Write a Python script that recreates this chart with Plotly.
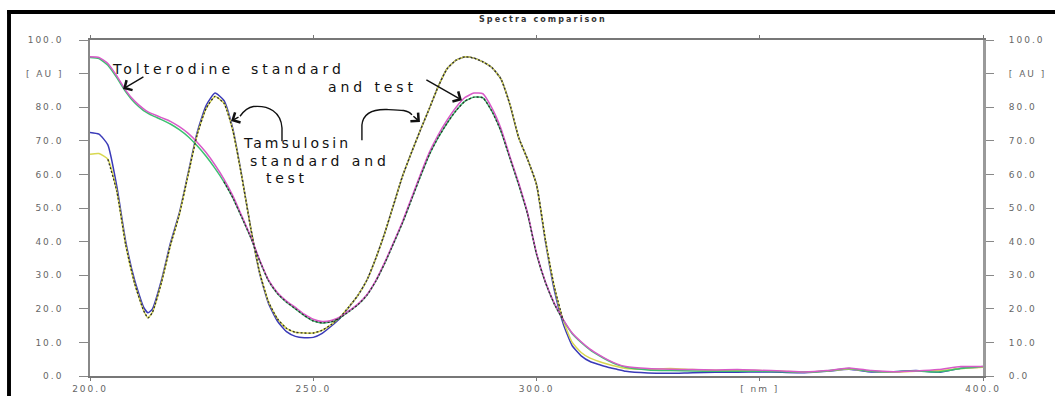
import plotly.graph_objects as go

# Wavelength grid (nm)
wavelength = [200, 202, 204, 206, 208, 210, 212, 213, 214, 216, 218, 220, 222, 224, 226, 228,
              230, 232, 234, 236, 238, 240, 242, 244, 246, 248, 250, 252, 254, 256, 258, 260,
              262, 264, 266, 268, 270, 272, 274, 276, 278, 280, 282, 284, 286, 288, 290, 292,
              294, 296, 298, 300, 302, 304, 306, 308, 310, 312, 314, 316, 318, 320,
              325, 330, 335, 340, 345, 350, 355, 360, 365, 370, 375, 380, 385, 390, 395, 400]

# Absorbance [AU]
tolterodine_std = [95.0, 94.8, 93.0, 89.3, 85.0, 81.8, 79.5, 78.6, 78.0, 76.9, 75.8, 74.2, 72.2, 69.6, 66.5, 62.8,
                   58.6, 53.6, 47.6, 41.5, 34.5, 28.5, 24.8, 22.3, 20.4, 18.4, 16.9, 16.2, 16.5, 17.6, 19.4, 21.4,
                   24.2, 28.4, 33.8, 39.8, 46.0, 53.0, 60.0, 66.6, 71.8, 76.2, 80.0, 82.9, 84.2, 84.0, 79.8, 73.8,
                   65.5, 57.5, 48.5, 36.5, 28.0, 21.6, 16.8, 12.8, 10.2, 8.0, 6.3, 4.8, 3.6, 2.8,
                   2.2, 2.0, 1.9, 1.8, 1.9, 1.7, 1.5, 1.2, 1.6, 2.4, 1.6, 1.3, 1.5, 1.9, 2.8, 2.8]
tolterodine_test = [94.8, 94.5, 92.5, 88.8, 84.6, 81.3, 79.0, 78.2, 77.5, 76.3, 75.0, 73.3, 71.2, 68.5, 65.4, 61.8,
                    57.8, 53.0, 47.2, 41.2, 34.3, 28.3, 24.5, 22.0, 20.0, 18.0, 16.4, 15.8, 16.1, 17.3, 19.2, 21.2,
                    24.0, 28.2, 33.5, 39.5, 45.6, 52.5, 59.4, 65.9, 71.0, 75.3, 79.0, 81.8, 83.0, 82.8, 78.8, 73.0,
                    65.0, 57.0, 48.2, 36.3, 27.8, 21.4, 16.6, 12.6, 10.0, 7.8, 6.1, 4.6, 3.4, 2.6,
                    1.8, 1.6, 1.5, 1.4, 1.4, 1.4, 1.3, 1.2, 1.5, 2.2, 1.4, 1.3, 1.5, 1.2, 2.2, 2.8]
tamsulosin_std = [72.5, 72.0, 68.8, 56.5, 40.0, 28.5, 20.5, 18.8, 20.0, 28.5, 39.5, 48.5, 60.5, 72.5, 80.5, 84.2,
                  82.0, 73.5, 59.5, 44.0, 30.5, 21.5, 16.3, 13.2, 11.8, 11.4, 11.5, 12.7, 14.8, 17.2, 20.5, 24.0,
                  28.5, 35.0, 42.5, 51.0, 59.5, 66.5, 73.2, 79.6, 86.2, 91.5, 94.0, 95.0, 94.6, 93.5, 91.8, 88.5,
                  81.0, 71.0, 64.5, 57.0, 40.0, 25.5, 15.5, 9.0, 6.0, 4.3, 3.4, 2.6, 2.0, 1.4,
                  0.9, 0.8, 1.0, 1.1, 1.1, 1.2, 1.1, 1.0, 1.4, 2.0, 1.2, 1.3, 1.6, 1.1, 2.3, 2.7]
tamsulosin_test = [66.0, 66.2, 64.5, 55.0, 39.0, 27.5, 19.5, 17.3, 19.0, 27.8, 38.8, 48.0, 60.0, 71.8, 79.6, 83.2,
                   81.2, 73.0, 59.3, 44.0, 30.8, 22.0, 17.0, 14.2, 13.0, 12.8, 12.8, 13.6, 15.3, 17.5, 20.6, 24.0,
                   28.5, 35.0, 42.5, 51.0, 59.5, 66.5, 73.2, 79.6, 86.2, 91.5, 94.0, 95.0, 94.6, 93.5, 91.8, 88.5,
                   81.0, 71.0, 64.5, 57.0, 40.5, 26.5, 16.5, 10.0, 7.0, 5.3, 4.3, 3.5, 2.8, 2.2,
                   2.0, 2.2, 1.9, 1.7, 1.6, 1.6, 1.4, 1.2, 1.5, 2.1, 1.4, 1.2, 1.4, 1.6, 2.2, 2.6]

# Axis ticks
x_ticks = [200, 250, 300, 350, 400]
x_tick_labels = ["200.0", "250.0", "300.0", "[ nm ]", "400.0"]
y_ticks = [0, 10, 20, 30, 40, 50, 60, 70, 80, 90, 100]
y_tick_labels = ["0.0", "10.0", "20.0", "30.0", "40.0", "50.0", "60.0", "70.0", "80.0", "[ AU ]", "100.0"]

# Wavelength windows where the overlapping traces show as a dark dotted line
tamsulosin_overlap = (204, 306)
tolterodine_overlap = (230, 306)


def spaced(text, px):
    return f'<span style="letter-spacing:{px}px">{text}</span>'


def window(xs, ys, lo, hi):
    pairs = [(x, y) for x, y in zip(xs, ys) if lo <= x <= hi]
    return [p[0] for p in pairs], [p[1] for p in pairs]


fig = go.Figure()

series = [
    ("Tamsulosin standard", tamsulosin_std, "#3a3ab8"),
    ("Tamsulosin test", tamsulosin_test, "#d8d850"),
    ("Tolterodine test", tolterodine_test, "#3cc070"),
    ("Tolterodine standard", tolterodine_std, "#d85ac8"),
]
for name, ys, color in series:
    fig.add_trace(go.Scatter(x=wavelength, y=ys, mode="lines", name=name,
                             line=dict(color=color, width=1.5, shape="spline", smoothing=0.5)))

for ys, (lo, hi) in [(tamsulosin_test, tamsulosin_overlap), (tolterodine_test, tolterodine_overlap)]:
    wx, wy = window(wavelength, ys, lo, hi)
    fig.add_trace(go.Scatter(x=wx, y=wy, mode="lines", yaxis="y2", showlegend=False,
                             line=dict(color="#2e2e2e", width=1.3, dash="2px,2px",
                                       shape="spline", smoothing=0.5)))

tick_font = dict(family="DejaVu Sans", size=9, color="#666666")

fig.update_layout(
    width=1055, height=396,
    margin=dict(l=90, r=72, t=40, b=20),
    paper_bgcolor="white", plot_bgcolor="white",
    showlegend=False,
    xaxis=dict(range=[200, 400], tickvals=x_ticks, automargin=False,
               ticktext=[spaced(t, 2) for t in x_tick_labels],
               showline=True, linecolor="#777777", linewidth=1.5, mirror="ticks",
               ticks="outside", ticklen=3, tickcolor="#777777", tickwidth=1,
               showgrid=False, zeroline=False, tickfont=tick_font, ticklabelstandoff=0),
    yaxis=dict(range=[0, 100], tickvals=y_ticks, automargin=False,
               ticktext=[spaced(t, 2) for t in y_tick_labels],
               showline=True, linecolor="#888888", linewidth=1.5,
               ticks="outside", ticklen=9, tickcolor="#888888", tickwidth=1,
               showgrid=False, zeroline=False, tickfont=tick_font, ticklabelstandoff=14),
    yaxis2=dict(range=[0, 100], overlaying="y", side="right", tickvals=y_ticks, automargin=False,
                ticktext=[spaced(t, 2) for t in y_tick_labels],
                showline=True, linecolor="#9a9a9a", linewidth=3,
                ticks="outside", ticklen=8, tickcolor="#888888", tickwidth=1,
                showgrid=False, zeroline=False, tickfont=tick_font, ticklabelstandoff=13),
)

# Chart title
fig.add_annotation(text=spaced("<b>Spectra comparison</b>", 2.1), xref="paper", yref="paper",
                   x=0.507, y=1.0625, xanchor="center", yanchor="middle", showarrow=False,
                   font=dict(family="DejaVu Sans", size=8, color="#333333"))

# Handwritten-style labels
label_font = dict(family="DejaVu Sans", size=14, color="#111111")
labels = [
    ("Tolterodine  standard", 204.6, 91.5, 4.0),
    ("and test", 253.0, 85.9, 3.9),
    ("Tamsulosin", 234.0, 69.2, 3.0),
    ("standard and", 235.6, 64.1, 3.9),
    ("test", 239.2, 59.0, 3.7),
]
for text, lx, ly, ls in labels:
    fig.add_annotation(text=spaced(text.replace("  ", "&nbsp; "), ls), x=lx, y=ly, xref="x", yref="y",
                       xanchor="left", yanchor="middle", showarrow=False, borderpad=0,
                       font=label_font)

# Pointer arrows: (tip x, tip y, tail x, tail y)
arrows = [
    (207.4, 85.4, 212.3, 89.3),
    (283.3, 82.1, 275.0, 88.4),
    (231.6, 75.9, 233.6, 77.3),
    (273.9, 75.6, 272.1, 77.7),
]
for tx, ty, axx, ayy in arrows:
    fig.add_annotation(x=tx, y=ty, ax=axx, ay=ayy, xref="x", yref="y", axref="x", ayref="y",
                       text="", showarrow=True, arrowhead=4, arrowsize=1.6, arrowwidth=1.4,
                       arrowcolor="#111111")

# Bracket strokes leading to the Tamsulosin arrows
brackets = [
    "M 243.0,69.9 L 243.0,73.8 C 242.8,78.6 240.0,80.6 236.6,80.2 C 235.3,80.0 234.3,78.6 233.6,77.3",
    "M 260.9,70.2 L 260.9,74.7 C 261.2,78.6 264.0,79.4 266.5,79.3 C 269.5,79.2 271.3,79.2 272.1,77.7",
]
for p in brackets:
    fig.add_shape(type="path", path=p, xref="x", yref="y", line=dict(color="#111111", width=1.4))

# Dark frame along the top and left edges
fig.add_shape(type="rect", xref="paper", yref="paper", x0=-0.0929, x1=1.081, y0=1.0774, y1=1.0893,
              fillcolor="black", line=dict(width=0), layer="above")
fig.add_shape(type="rect", xref="paper", yref="paper", x0=-0.0929, x1=-0.0885, y0=-0.06, y1=1.0893,
              fillcolor="black", line=dict(width=0), layer="above")

fig.write_html("out.html")
